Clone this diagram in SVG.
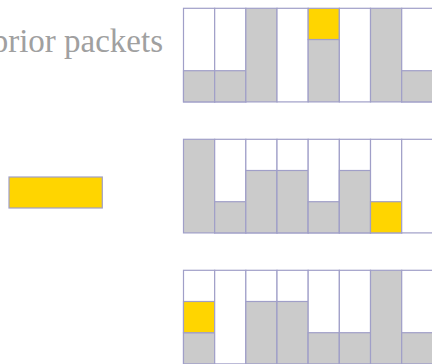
<svg xmlns="http://www.w3.org/2000/svg" width="432" height="364" viewBox="0 0 432 364">
<style>
.c{stroke:#a09fc8;stroke-width:1.2}
.w{fill:#ffffff}
.g{fill:#cbcbcb}
.y{fill:#ffd500}
.t{font-family:"Liberation Serif",serif;font-size:33px;fill:#a0a0a0}
</style>
<rect width="432" height="364" fill="#fff"/>
<text class="t" x="163" y="51.5" text-anchor="end">prior packets</text>
<g id="new-packet"><rect class="c y" x="9" y="177" width="93.3" height="31"/></g>
<g id="row1">
<rect class="c w" x="183.5" y="8.3" width="31.17" height="93.6"/><rect class="c g" x="183.5" y="70.7" width="31.17" height="31.2"/>
<rect class="c w" x="214.67" y="8.3" width="31.17" height="93.6"/><rect class="c g" x="214.67" y="70.7" width="31.17" height="31.2"/>
<rect class="c g" x="245.84" y="8.3" width="31.17" height="93.6"/>
<rect class="c w" x="277.01" y="8.3" width="31.17" height="93.6"/>
<rect class="c g" x="308.18" y="39.5" width="31.17" height="62.4"/><rect class="c y" x="308.18" y="8.3" width="31.17" height="31.2"/>
<rect class="c w" x="339.35" y="8.3" width="31.17" height="93.6"/>
<rect class="c g" x="370.52" y="8.3" width="31.17" height="93.6"/>
<rect class="c w" x="401.69" y="8.3" width="31.17" height="93.6"/><rect class="c g" x="401.69" y="70.7" width="31.17" height="31.2"/>
</g>
<g id="row2">
<rect class="c g" x="183.5" y="139.3" width="31.17" height="93.6"/>
<rect class="c w" x="214.67" y="139.3" width="31.17" height="93.6"/><rect class="c g" x="214.67" y="201.7" width="31.17" height="31.2"/>
<rect class="c w" x="245.84" y="139.3" width="31.17" height="93.6"/><rect class="c g" x="245.84" y="170.5" width="31.17" height="62.4"/>
<rect class="c w" x="277.01" y="139.3" width="31.17" height="93.6"/><rect class="c g" x="277.01" y="170.5" width="31.17" height="62.4"/>
<rect class="c w" x="308.18" y="139.3" width="31.17" height="93.6"/><rect class="c g" x="308.18" y="201.7" width="31.17" height="31.2"/>
<rect class="c w" x="339.35" y="139.3" width="31.17" height="93.6"/><rect class="c g" x="339.35" y="170.5" width="31.17" height="62.4"/>
<rect class="c w" x="370.52" y="139.3" width="31.17" height="93.6"/><rect class="c y" x="370.52" y="201.7" width="31.17" height="31.2"/>
<rect class="c w" x="401.69" y="139.3" width="31.17" height="93.6"/>
</g>
<g id="row3">
<rect class="c w" x="183.5" y="270.3" width="31.17" height="93.6"/><rect class="c g" x="183.5" y="332.7" width="31.17" height="31.2"/><rect class="c y" x="183.5" y="301.5" width="31.17" height="31.2"/>
<rect class="c w" x="214.67" y="270.3" width="31.17" height="93.6"/>
<rect class="c w" x="245.84" y="270.3" width="31.17" height="93.6"/><rect class="c g" x="245.84" y="301.5" width="31.17" height="62.4"/>
<rect class="c w" x="277.01" y="270.3" width="31.17" height="93.6"/><rect class="c g" x="277.01" y="301.5" width="31.17" height="62.4"/>
<rect class="c w" x="308.18" y="270.3" width="31.17" height="93.6"/><rect class="c g" x="308.18" y="332.7" width="31.17" height="31.2"/>
<rect class="c w" x="339.35" y="270.3" width="31.17" height="93.6"/><rect class="c g" x="339.35" y="332.7" width="31.17" height="31.2"/>
<rect class="c g" x="370.52" y="270.3" width="31.17" height="93.6"/>
<rect class="c w" x="401.69" y="270.3" width="31.17" height="93.6"/><rect class="c g" x="401.69" y="332.7" width="31.17" height="31.2"/>
</g>
</svg>
